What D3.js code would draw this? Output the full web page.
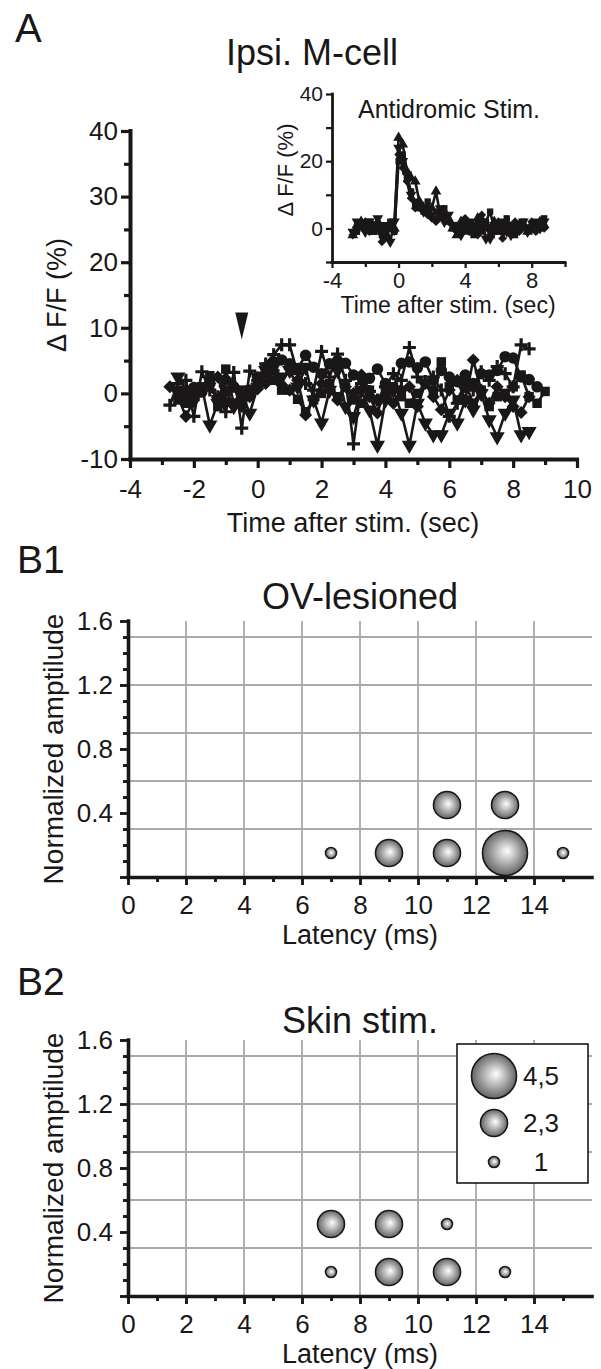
<!DOCTYPE html>
<html>
<head>
<meta charset="utf-8">
<script src="https://cdn.jsdelivr.net/npm/d3@7"></script>
<style>
body { margin: 0; background: #fff; }
svg { display: block; }
</style>
</head>
<body>
<svg id="fig" width="601" height="1369"></svg>
<script>
// ---- panel A, main plot: dF/F (%) of 5 trials, sampled every 0.25 s ----
var TIME = [-2.75, -2.5, -2.25, -2, -1.75, -1.5, -1.25, -1, -0.75, -0.5, -0.25, 0,
            0.25, 0.5, 0.75, 1, 1.25, 1.5, 1.75, 2, 2.25, 2.5, 2.75, 3,
            3.25, 3.5, 3.75, 4, 4.25, 4.5, 4.75, 5, 5.25, 5.5, 5.75, 6,
            6.25, 6.5, 6.75, 7, 7.25, 7.5, 7.75, 8, 8.25, 8.5, 8.75, 9];
var PLUS_TRIAL = [-1.8, 1.5, 2.0, -3.5, 3.3, 0.5, -0.5, -2.8, 3.2, -5.3, 3.4, 2.0,
                  4.5, 5.9, 7.4, 7.4, 3.0, 1.5, 0.5, 6.4, 2.5, 6.0, 2.0, -7.7,
                  1.5, 0.3, -1.0, 1.0, 3.0, 2.0, 7.0, 2.5, 1.8, 2.5, 0.5, -3.5,
                  -1.5, 1.0, 0.5, 3.3, 2.0, 4.1, 3.0, 1.0, 7.4, 6.8, null, null];
var CIRCLE_TRIAL = [null, 0.4, -0.5, 0.9, 0.2, 1.5, -0.8, 2.0, 1.0, -1.5, 0.5, 2.5,
                    4.0, 4.8, 5.1, 4.5, 3.8, 5.8, 4.0, 3.0, 4.5, 5.0, 4.6, 2.8,
                    2.5, 2.3, 3.7, 1.5, 0.8, 4.6, 4.8, 3.9, 4.8, 2.0, 3.5, 2.5,
                    1.8, 2.8, 1.5, 3.0, 2.8, 3.5, 5.6, 5.4, 2.5, 2.1, 1.0, null];
var DIAMOND_TRIAL = [1.0, -0.5, -3.5, -1.0, 0.5, 1.5, 2.5, -1.5, 1.0, -2.0, -0.5, 0.7,
                     1.5, 3.5, 1.3, 0.5, 2.0, -3.3, -1.0, 1.5, 0.5, -1.0, 1.0, 0.0,
                     2.8, -0.5, -3.0, 1.0, -1.5, 0.5, 1.0, -2.0, 1.5, -0.5, -2.5, 0.5,
                     2.0, -1.0, 5.1, 0.5, -1.5, 1.0, -0.5, -2.0, -2.9, -0.5, null, null];
var SQUARE_TRIAL = [null, -1.0, -1.5, 0.0, 1.0, 2.7, -2.0, 3.7, -1.5, 0.5, 0.5, 1.5,
                    3.0, 2.0, 0.5, 0.5, -0.9, -2.8, -1.0, 0.0, 1.5, -0.5, 1.0, -1.0,
                    -1.5, 0.5, -1.0, 0.0, 1.0, -0.5, -1.5, 0.0, 1.5, 0.5, 4.8, 1.0,
                    -1.0, 1.5, -1.5, 0.5, -2.0, -0.5, 0.0, 1.0, 2.8, -0.5, -1.5, 0.3];
var TRIANGLE_TRIAL = [null, 2.5, 0.5, -1.0, 1.0, -4.8, -1.5, 0.5, -2.0, 0.0, -3.0, 1.0,
                      3.5, 4.0, 2.5, 3.5, 1.0, 4.0, -1.0, -4.5, 0.5, 3.5, -2.0, -3.5,
                      0.5, -2.5, -7.9, -1.0, 0.5, -3.0, -7.9, -1.5, -4.5, -6.3, -6.3, -3.0,
                      -4.5, -1.0, -2.5, 0.0, -4.0, -6.6, -3.0, -1.0, -6.3, -5.8, null, null];
var STIM_TIME = -0.5;      // arrowhead
var STIM_TIP = 8.2;

// ---- panel A, inset: antidromic stimulation ----
var INSET_TIME = [-2.75, -2.5, -2.25, -2, -1.75, -1.5, -1.25, -1, -0.75, -0.5, -0.25, 0,
                  0.25, 0.5, 0.75, 1, 1.25, 1.5, 1.75, 2, 2.25, 2.5, 2.75, 3,
                  3.25, 3.5, 3.75, 4, 4.25, 4.5, 4.75, 5, 5.25, 5.5, 5.75, 6,
                  6.25, 6.5, 6.75, 7, 7.25, 7.5, 7.75, 8, 8.25, 8.5, 8.75];
var INSET_UP = [-2, 1, 2, 0, 1, -1, 2, 0, -3, 1, 0, 27, 25, 17, 15, 14, 8, 6, 5, 6, 11, 4, 5, 3,
                0, -2, 2, -1, 1, 0, 3, -1, 0, -2, 2, 1, -1, 2, 0, -1, 1, 0, -1, 1, 0, 2, 1];
var INSET_DOWN = [-1, 2, 1, -1, 2, 0, 3, -1, 1, -4, 2, 24, 20, 16, 10, 8, 7, 5, 6, 4, 3, 6, 2, 4,
                  1, 0, -2, 1, 2, -1, 0, 2, -3, -3, 1, 0, 2, -1, -2, 1, 0, 2, -1, 0, 1, 0, 2];
var INSET_DIAMOND = [-2, 0, 1, 2, -1, 1, 0, -4, -2, 0, -1, 22, 18, 14, 9, 6, 7, 5, 4, 3, 2, 5, 4, 2,
                     1, -1, 0, 3, -1, 1, -2, 4, 1, 0, -1, 2, -3, 1, 0, 2, -1, 1, 0, 2, -1, 1, 0];
var INSET_SQUARE = [null, -1, 1, 0, 2, -1, 1, -2, 0, 2, -1, 20, 22, 15, 11, 7, 6, 5, 8, 4, 5, 3, 6, 2,
                    0, 1, -1, 2, 0, -2, 1, 0, 2, 5, 0, -1, 1, 3, 0, -2, 1, 2, 0, 1, 2, 0, 3];

// ---- panel B: latency (ms), normalized amplitude, number of cells ----
var B1_LATENCY = [7, 9, 11, 13, 15, 11, 13];
var B1_AMPLITUDE = [0.15, 0.15, 0.15, 0.15, 0.15, 0.45, 0.45];
var B1_COUNT = [1, 2, 2, 4, 1, 2, 2];
var B2_LATENCY = [7, 9, 11, 7, 9, 11, 13];
var B2_AMPLITUDE = [0.45, 0.45, 0.45, 0.15, 0.15, 0.15, 0.15];
var B2_COUNT = [2, 2, 1, 1, 2, 2, 1];
var LEGEND_COUNT = [4, 2, 1];
var LEGEND_LABELS = ["4,5", "2,3", "1"];

var INK = "#1a1718";
var GRID = "#a7a9ac";
var FONT = "'Liberation Sans', Arial, Helvetica, sans-serif";
var plain = function (d) { return String(d); };   // hyphen minus, like the figure

var svg = d3.select("#fig");

function label(txt, x, y, size, anchor, rotate) {
    var t = svg.append("text")
        .attr("font-family", FONT)
        .attr("font-size", size)
        .attr("fill", INK)
        .attr("text-anchor", anchor || "start")
        .text(txt);
    if (rotate) t.attr("transform", "translate(" + x + "," + y + ") rotate(-90)");
    else t.attr("x", x).attr("y", y);
    return t;
}

// labelled axis; the axis line itself is drawn as a plain svg line
function addAxis(axis, tx, ty, width, size, vertical) {
    var g = svg.append("g")
        .attr("transform", "translate(" + tx + "," + ty + ")")
        .call(axis)
        .attr("font-family", FONT)
        .attr("font-size", size);
    g.select(".domain").remove();
    g.selectAll(".tick line").attr("stroke", INK).attr("stroke-width", width * 0.8);
    g.selectAll(".tick text").attr("fill", INK);
    var r = axis.scale().range();
    var ln = g.append("line").attr("stroke", INK).attr("stroke-width", width)
        .attr("stroke-linecap", "square");
    if (vertical) ln.attr("x1", 0.5).attr("x2", 0.5).attr("y1", r[0]).attr("y2", r[1]);
    else ln.attr("y1", 0.5).attr("y2", 0.5).attr("x1", r[0]).attr("x2", r[1]);
    return g;
}

function minorAxis(axis, tx, ty, width) {
    var g = svg.append("g")
        .attr("transform", "translate(" + tx + "," + ty + ")")
        .call(axis);
    g.select(".domain").remove();
    g.selectAll(".tick line").attr("stroke", INK).attr("stroke-width", width * 0.8);
    return g;
}

function marker(kind, size) {
    if (kind == "plus") return "M" + (-size) + ",0H" + size + "M0," + (-size) + "V" + size;
    if (kind == "diamond") return d3.symbol().type(d3.symbolSquare).size(size)();
    if (kind == "circle") return d3.symbol().type(d3.symbolCircle).size(size)();
    if (kind == "square") return d3.symbol().type(d3.symbolSquare).size(size)();
    return d3.symbol().type(d3.symbolTriangle).size(size)();
}

function drawTrace(times, vals, x, y, kind, size, lw) {
    var pts = [];
    for (var i = 0; i < times.length; i++) pts.push([times[i], vals[i]]);
    var line = d3.line()
        .defined(function (d) { return d[1] != null; })
        .x(function (d) { return x(d[0]); })
        .y(function (d) { return y(d[1]); });
    svg.append("path").datum(pts)
        .attr("d", line)
        .attr("fill", "none")
        .attr("stroke", INK)
        .attr("stroke-width", lw)
        .attr("stroke-linejoin", "round");
    var rot = 0;
    if (kind == "diamond") rot = 45;
    if (kind == "down") rot = 180;
    var m = svg.append("g").selectAll("path")
        .data(pts.filter(function (d) { return d[1] != null; }))
        .join("path")
        .attr("d", marker(kind, size))
        .attr("transform", function (d) {
            return "translate(" + x(d[0]) + "," + y(d[1]) + ") rotate(" + rot + ")";
        });
    if (kind == "plus") m.attr("fill", "none").attr("stroke", INK).attr("stroke-width", 3.2);
    else m.attr("fill", INK);
}

// ================= panel A =================
var xA = d3.scaleLinear().domain([-4, 10]).range([130, 577]);
var yA = d3.scaleLinear().domain([-10, 40]).range([459, 131]);

minorAxis(d3.axisLeft(yA).tickValues([-5, 5, 15, 25, 35]).tickSize(6).tickFormat(""), 130, 0, 4);
addAxis(d3.axisLeft(yA).tickValues([-10, 0, 10, 20, 30, 40]).tickSize(9).tickPadding(3)
    .tickFormat(plain), 130, 0, 4, 26, true);
minorAxis(d3.axisBottom(xA).tickValues([-3, -1, 1, 3, 5, 7, 9]).tickSize(6).tickFormat(""), 0, 459, 4);
addAxis(d3.axisBottom(xA).tickValues([-4, -2, 0, 2, 4, 6, 8, 10]).tickSize(9).tickPadding(12)
    .tickFormat(plain), 0, 459, 4, 26, false);

drawTrace(TIME, DIAMOND_TRIAL, xA, yA, "diamond", 85, 2.6);
drawTrace(TIME, SQUARE_TRIAL, xA, yA, "square", 90, 2.6);
drawTrace(TIME, CIRCLE_TRIAL, xA, yA, "circle", 105, 2.6);
drawTrace(TIME, TRIANGLE_TRIAL, xA, yA, "down", 100, 2.6);
drawTrace(TIME, PLUS_TRIAL, xA, yA, "plus", 6.5, 2.6);

// stimulus arrowhead
var ax = xA(STIM_TIME), ay = yA(STIM_TIP);
svg.append("path")
    .attr("d", "M" + (ax - 6.5) + "," + (ay - 27) + "L" + (ax + 6.5) + "," + (ay - 27) + "L" + ax + "," + ay + "Z")
    .attr("fill", INK);

label("A", 15, 42, 40);
label("Ipsi. M-cell", 312, 65, 36, "middle");
label("Time after stim. (sec)", 353, 532, 27, "middle");
label("\u0394 F/F (%)", 66, 295, 27, "middle", true);

// inset
var xI = d3.scaleLinear().domain([-4, 10]).range([332, 565]);
var yI = d3.scaleLinear().domain([-10, 40]).range([262, 94]);
minorAxis(d3.axisLeft(yI).tickValues([-10, 10, 30]).tickSize(6).tickFormat(""), 332, 0, 2.8);
addAxis(d3.axisLeft(yI).tickValues([0, 20, 40]).tickSize(6).tickPadding(3)
    .tickFormat(plain), 332, 0, 2.8, 21, true);
minorAxis(d3.axisBottom(xI).tickValues([-2, 2, 6, 10]).tickSize(5).tickFormat(""), 0, 262, 2.8);
addAxis(d3.axisBottom(xI).tickValues([-4, 0, 4, 8]).tickSize(6).tickPadding(4)
    .tickFormat(plain), 0, 262, 2.8, 22, false);

drawTrace(INSET_TIME, INSET_SQUARE, xI, yI, "square", 40, 2.6);
drawTrace(INSET_TIME, INSET_DIAMOND, xI, yI, "diamond", 38, 2.6);
drawTrace(INSET_TIME, INSET_DOWN, xI, yI, "down", 50, 2.6);
drawTrace(INSET_TIME, INSET_UP, xI, yI, "up", 50, 2.6);

label("Antidromic Stim.", 449, 118, 25, "middle");
label("Time after stim. (sec)", 448, 313, 23, "middle");
label("\u0394 F/F (%)", 293, 170, 22, "middle", true);

// ================= panel B =================
var defs = svg.append("defs");
var grad = defs.append("radialGradient").attr("id", "ball")
    .attr("cx", "50%").attr("cy", "50%").attr("r", "50%")
    .attr("fx", "55%").attr("fy", "45%");
grad.append("stop").attr("offset", "0%").attr("stop-color", "#ffffff");
grad.append("stop").attr("offset", "100%").attr("stop-color", "#646464");

var xB = d3.scaleLinear().domain([0, 16]).range([128, 592]);
var rB = d3.scaleThreshold().domain([2, 4]).range([5.5, 13.5, 22.5]);

function bubblePanel(y0, y1, lat, amp, count) {
    var yB = d3.scaleLinear().domain([0, 1.6]).range([y0, y1]);
    var grid = svg.append("g").attr("stroke", GRID).attr("stroke-width", 1.8);
    grid.selectAll("line.h").data([0.3, 0.6, 0.9, 1.2, 1.5]).join("line")
        .attr("x1", xB(0)).attr("x2", xB(16))
        .attr("y1", function (d) { return yB(d); }).attr("y2", function (d) { return yB(d); });
    grid.selectAll("line.v").data([2, 4, 6, 8, 10, 12, 14]).join("line")
        .attr("x1", function (d) { return xB(d); }).attr("x2", function (d) { return xB(d); })
        .attr("y1", yB(1.6)).attr("y2", yB(0));

    minorAxis(d3.axisLeft(yB).tickValues([0.1, 0.2, 0.3, 0.5, 0.6, 0.7, 0.9, 1.0, 1.1, 1.3, 1.4, 1.5])
        .tickSize(5).tickFormat(""), 128, 0, 3.6);
    addAxis(d3.axisLeft(yB).tickValues([0, 0.4, 0.8, 1.2, 1.6]).tickSize(8).tickPadding(7)
        .tickFormat(function (d) { return d == 0 ? "" : d3.format(".1f")(d); }), 128, 0, 3.6, 26, true);
    minorAxis(d3.axisBottom(xB).tickValues([1, 3, 5, 7, 9, 11, 13, 15]).tickSize(5).tickFormat(""), 0, y0, 3.6);
    addAxis(d3.axisBottom(xB).tickValues([0, 2, 4, 6, 8, 10, 12, 14]).tickSize(8).tickPadding(11)
        .tickFormat(plain), 0, y0, 3.6, 26, false);

    var pts = [];
    for (var i = 0; i < lat.length; i++) pts.push({x: lat[i], y: amp[i], n: count[i]});
    svg.append("g").selectAll("circle").data(pts).join("circle")
        .attr("cx", function (d) { return xB(d.x); })
        .attr("cy", function (d) { return yB(d.y); })
        .attr("r", function (d) { return rB(d.n); })
        .attr("fill", "url(#ball)")
        .attr("stroke", INK)
        .attr("stroke-width", 1.6);
    return yB;
}

label("B1", 17, 573, 39);
label("OV-lesioned", 360, 609, 36, "middle");
bubblePanel(877, 621, B1_LATENCY, B1_AMPLITUDE, B1_COUNT);
label("Latency (ms)", 360, 944, 27, "middle");
label("Normalized amptilude", 63, 749, 28, "middle", true);

label("B2", 17, 995, 39);
label("Skin stim.", 360, 1033, 36, "middle");
bubblePanel(1296, 1040, B2_LATENCY, B2_AMPLITUDE, B2_COUNT);
label("Latency (ms)", 360, 1363, 27, "middle");
label("Normalized amptilude", 63, 1168, 28, "middle", true);

// legend
var leg = svg.append("g");
leg.append("rect").attr("x", 457).attr("y", 1044).attr("width", 131).attr("height", 139)
    .attr("fill", "#fff").attr("stroke", INK).attr("stroke-width", 1.6);
var legY = [1076, 1123, 1162];
for (var k = 0; k < LEGEND_COUNT.length; k++) {
    leg.append("circle").attr("cx", 494).attr("cy", legY[k]).attr("r", rB(LEGEND_COUNT[k]))
        .attr("fill", "url(#ball)").attr("stroke", INK).attr("stroke-width", 1.6);
    leg.append("text").attr("x", 541).attr("y", legY[k]).attr("dy", "0.35em")
        .attr("text-anchor", "middle").attr("font-family", FONT).attr("font-size", 26)
        .attr("fill", INK).text(LEGEND_LABELS[k]);
}
</script>
</body>
</html>
